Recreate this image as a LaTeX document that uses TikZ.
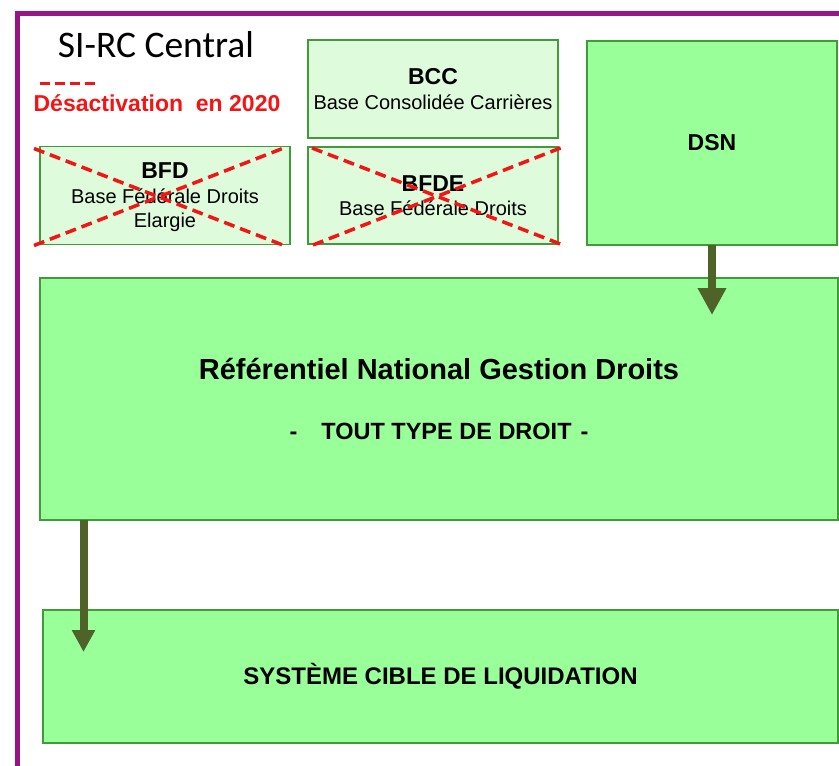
\documentclass[tikz,border=0pt]{standalone}
\usepackage{fontspec}
\setmainfont{Liberation Sans}
\newfontfamily\calibri{Carlito}
\usepackage{xcolor}
\usetikzlibrary{arrows.meta,calc,positioning}

\definecolor{framepurple}{RGB}{152,20,130}
\definecolor{lightbox}{RGB}{222,252,220}
\definecolor{brightbox}{RGB}{153,255,153}
\definecolor{boxborder}{RGB}{64,155,56}
\definecolor{arrowgreen}{RGB}{79,98,40}
\definecolor{offred}{RGB}{245,20,20}

\begin{document}
\begin{tikzpicture}[x=1pt,y=-1pt,semithick]
		\tikzstyle{every node}=[inner sep=0pt,outer sep=0pt]
		\tikzstyle{oldbase}=[rectangle,draw=boxborder,line width=1.5pt,fill=lightbox,minimum width=250pt,minimum height=98pt,align=center,font=\fontsize{20}{24.5}\selectfont]
		\tikzstyle{newbase}=[rectangle,draw=boxborder,line width=2pt,fill=brightbox,align=center,font=\bfseries\fontsize{24}{60}\selectfont]
		\tikzstyle{crossline}=[draw=offred,line width=3.5pt,dash pattern=on 11pt off 6pt]
		\tikzstyle{flowarrow}=[draw=arrowgreen,line width=8pt]
		\useasboundingbox (0,0) rectangle (839,766);
		% cadre SI-RC
		\draw[framepurple,line width=5pt] (17.7,766) -- (17.7,13) -- (839,13);
		\node (title) [anchor=base,font=\calibri\fontsize{37.5}{40}\selectfont] at (156,57.3) {SI-RC Central};
		\draw[offred,line width=3pt,dash pattern=on 10pt off 5pt] (40,83) -- (95,83);
		\node (legend) [anchor=base,text=offred,font=\bfseries\fontsize{23}{24}\selectfont] at (157,111.7) {Désactivation\ \ en 2020};
		% bases
		\node[oldbase]    (bcc) at (433,89)               				  {{\bfseries\fontsize{23}{24}\selectfont BCC}\\Base Consolidée Carrières};
		\node[oldbase]    (bfde)[below of=bcc, node distance=106.5pt, minimum height=97pt]  {{\bfseries\fontsize{23}{24}\selectfont BFDE}\\Base Fédérale Droits};
		\node[oldbase]    (bfd)[left of=bfde, node distance=268pt, text depth=0pt]      {{\bfseries\fontsize{23}{24}\selectfont BFD}\\Base Fédérale Droits\\Elargie};
		\node[newbase]    (dsn) at (712,142.5)[minimum width=250pt,minimum height=204pt,font=\bfseries\fontsize{23}{24}\selectfont]  {DSN};
		\node[newbase]    (rngd) at (439,399)[minimum width=798pt,minimum height=242pt,font=\bfseries\fontsize{23.5}{60}\selectfont]  {{\fontsize{29}{60}\selectfont Référentiel National Gestion Droits}\\-\hspace{24pt}TOUT TYPE DE DROIT\hspace{9pt}-};
		\node[newbase]    (scl) at (440.5,676.3)[minimum width=794.4pt,minimum height=132.7pt]  {SYSTÈME CIBLE DE LIQUIDATION};
		% desactivation 2020
		\draw[crossline] ($(bfd.north west)+(-6,2)$) -- ($(bfd.south east)+(-6,1)$);
		\draw[crossline] ($(bfd.south west)+(-6,1)$) -- ($(bfd.north east)+(-5,1)$);
		\draw[crossline] ($(bfde.north west)+(4,1)$) -- ($(bfde.south east)+(5,1)$);
		\draw[crossline] ($(bfde.south west)+(5,1)$) -- ($(bfde.north east)+(5,0)$);
		% flux
		\coordinate (dsnin) at (712,315);
		\coordinate (sclin) at (83.5,652);
		\draw[flowarrow,-{Triangle[length=27pt,width=27pt]}] (dsn.south) -- (dsnin);
		\draw[flowarrow,-{Triangle[length=22pt,width=22pt]}] (rngd.south -| sclin) -- (sclin);
\end{tikzpicture}
\end{document}
